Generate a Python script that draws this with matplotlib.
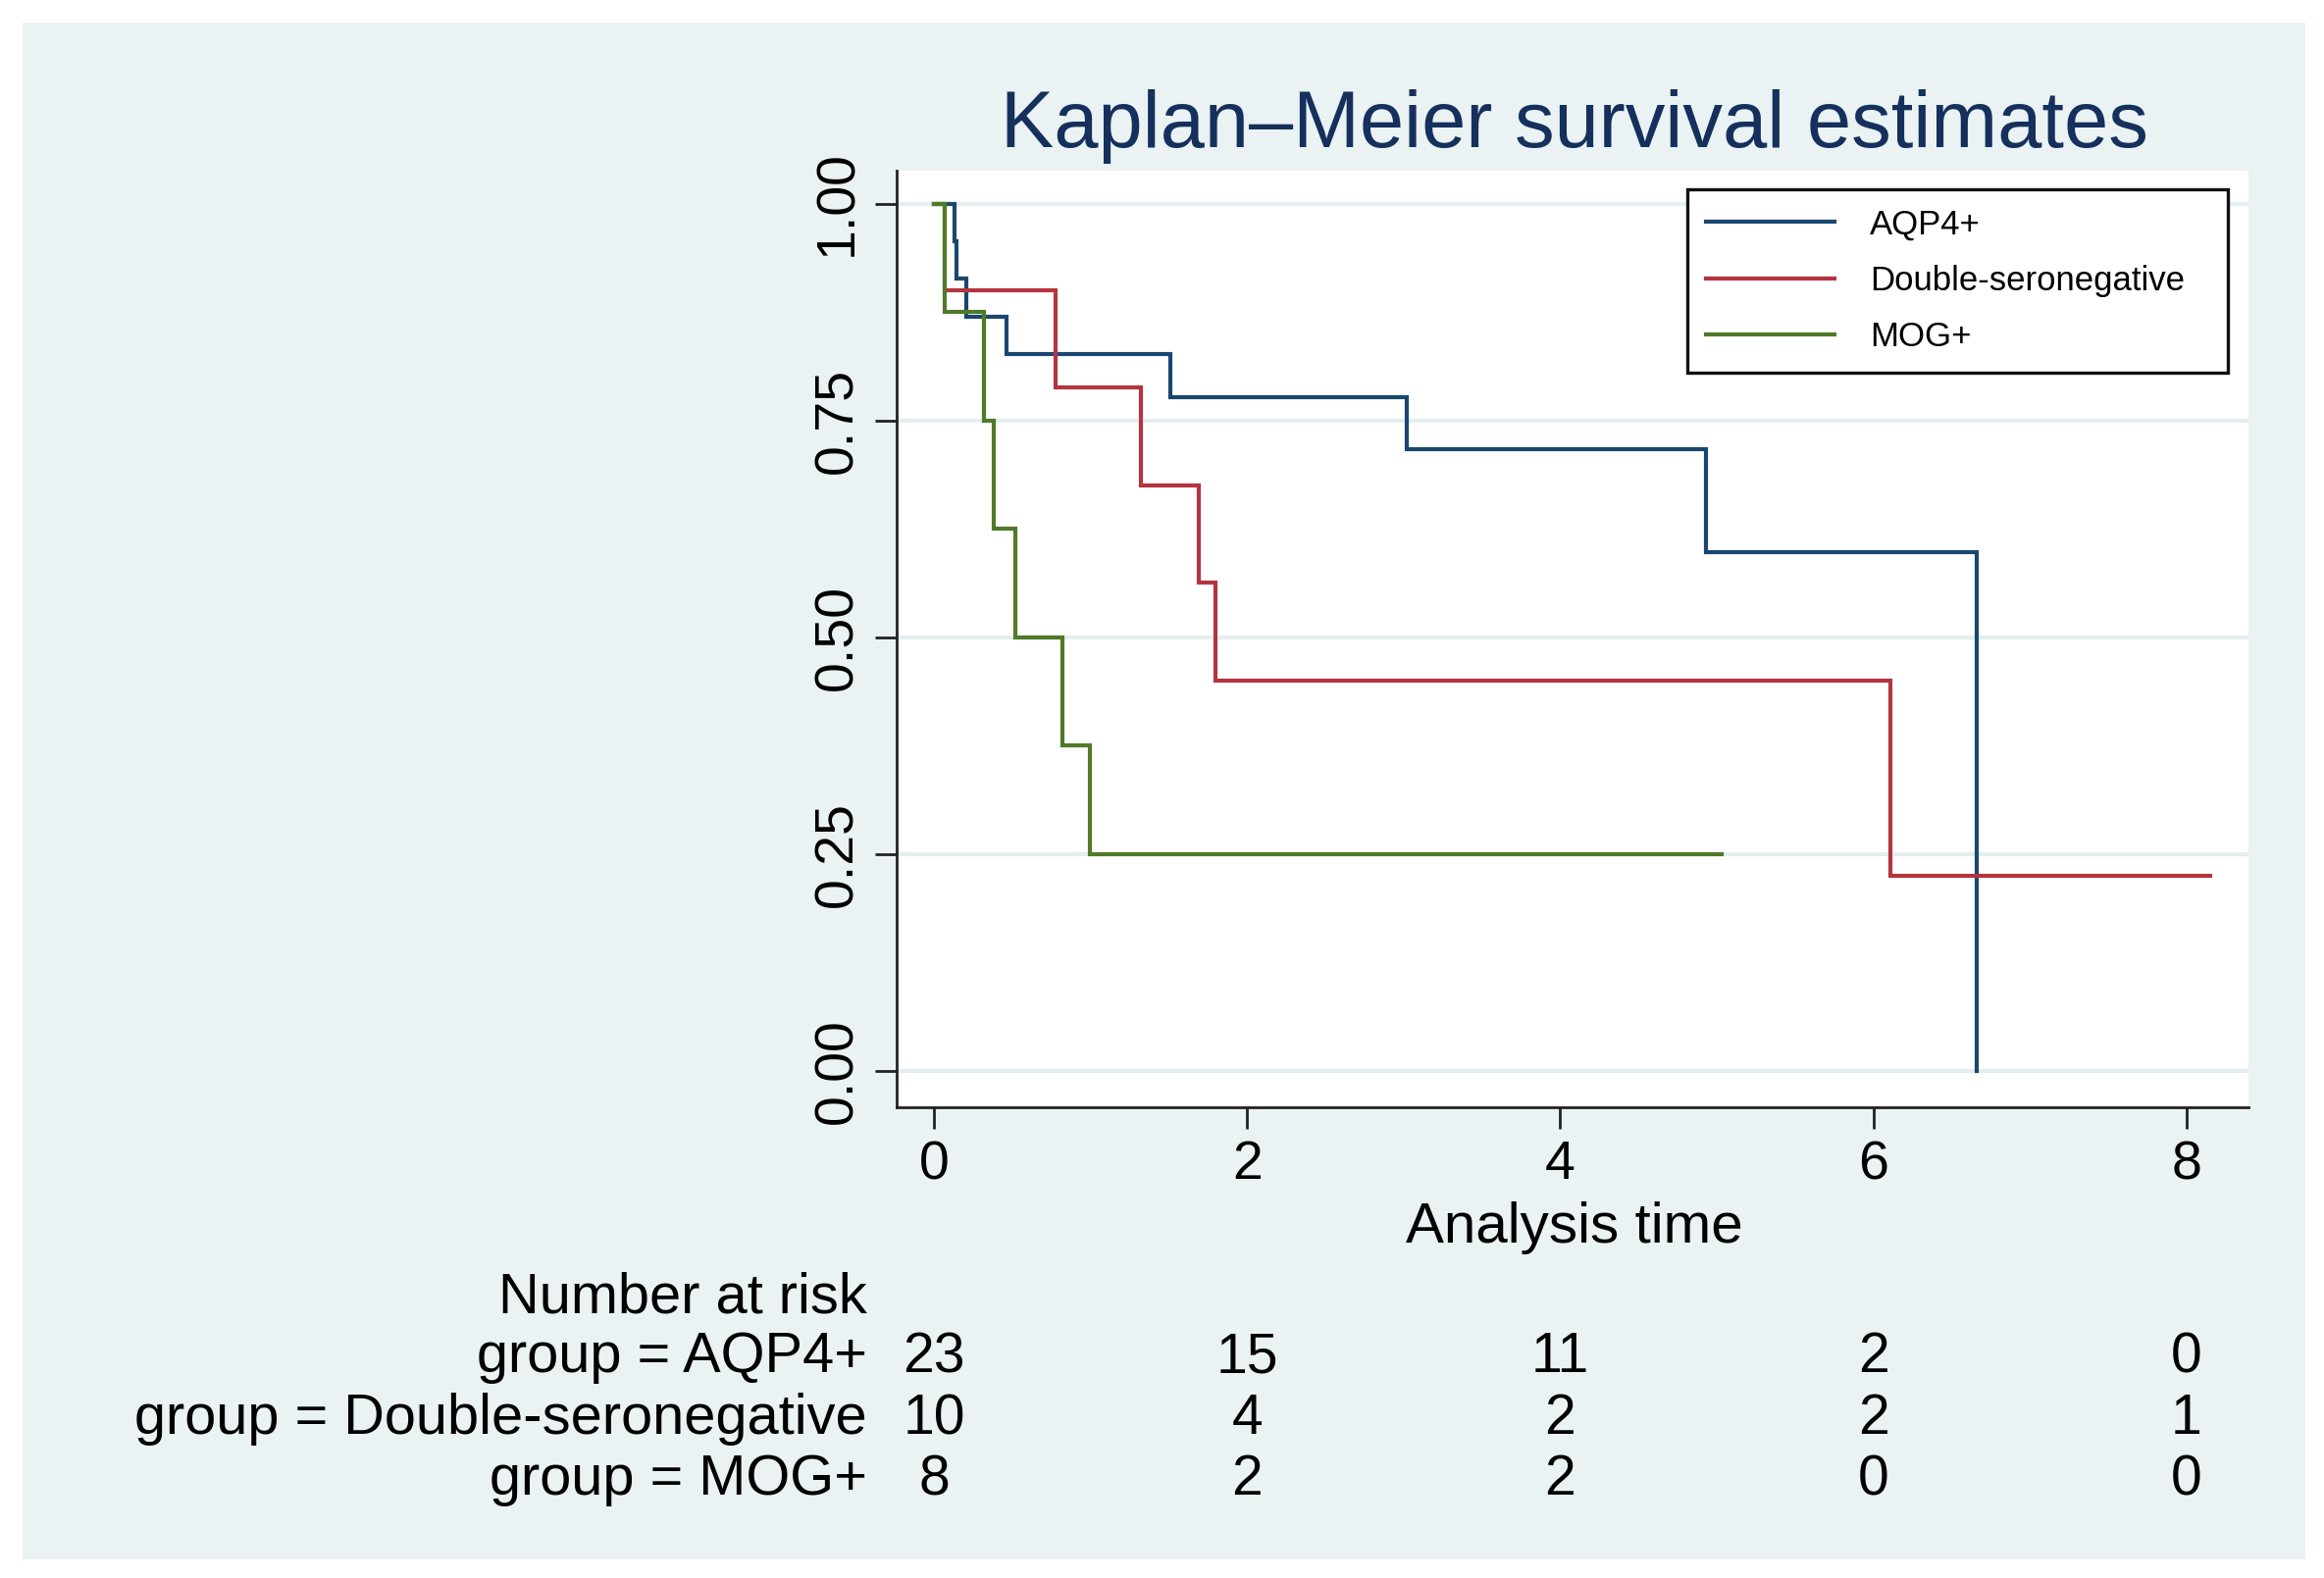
import matplotlib
matplotlib.use("Agg")
import matplotlib.pyplot as plt
import matplotlib.transforms as mtransforms
from matplotlib.patches import Rectangle

plt.rcParams['font.family'] = ['Liberation Sans', 'DejaVu Sans']

# Kaplan-Meier estimates (analysis time, survival)
aqp4_t = [0, 0.134, 0.146, 0.207, 0.462, 1.51, 3.02, 4.93, 6.66]
aqp4_s = [1.0, 0.957, 0.913, 0.870, 0.826, 0.777, 0.717, 0.598, 0.0]

dsn_t = [0, 0.07, 0.777, 1.32, 1.69, 1.80, 6.11, 8.15]
dsn_s = [1.0, 0.9, 0.7875, 0.675, 0.5625, 0.45, 0.225, 0.225]

mog_t = [0, 0.07, 0.32, 0.384, 0.52, 0.823, 0.994, 5.03]
mog_s = [1.0, 0.875, 0.75, 0.625, 0.5, 0.375, 0.25, 0.25]

groups = ["AQP4+", "Double-seronegative", "MOG+"]

# number at risk table
risk_times = [0, 2, 4, 6, 8]
risk_aqp4 = [23, 15, 11, 2, 0]
risk_dsn = [10, 4, 2, 2, 1]
risk_mog = [8, 2, 2, 0, 0]

xticks = [0, 2, 4, 6, 8]
yticks = [0, 0.25, 0.5, 0.75, 1.0]

bg = '#EAF2F3'
colors = ['#1A476F', '#B5343F', '#507A28']
axcol = '#222222'

fig = plt.figure(figsize=(23.69, 16.09), dpi=100, facecolor='white')
fig.patches.append(Rectangle((0.0097, 0.0118), 0.9823, 0.9739, transform=fig.transFigure,
                             facecolor=bg, edgecolor='none', zorder=-1))

ax = fig.add_axes([0.3858, 0.2983, 0.5817, 0.5936])
ax.set_facecolor('white')

series = [(aqp4_t, aqp4_s), (dsn_t, dsn_s), (mog_t, mog_s)]
for (t, s), c, g in zip(series, colors, groups):
    ax.step(t, s, where='post', color=c, linewidth=3.0, label=g, solid_joinstyle='miter')

ax.set_xlim(-0.238, 8.396)
ax.set_ylim(-0.042, 1.038)
ax.set_xticks(xticks)
ax.set_yticks(yticks)
ax.set_yticklabels([f"{v:.2f}" for v in yticks], rotation=90, va='center')
ax.yaxis.grid(True, color='#E4EEF1', linewidth=3)
ax.set_axisbelow(True)

for side in ['top', 'right']:
    ax.spines[side].set_visible(False)
for side in ['left', 'bottom']:
    ax.spines[side].set_color(axcol)
    ax.spines[side].set_linewidth(2.0)

ax.tick_params(axis='both', direction='out', length=16, width=2.0, color=axcol)
ax.tick_params(axis='x', labelsize=40, pad=8)
ax.tick_params(axis='y', labelsize=40, pad=8)

# legend box stretched to the reference width
leg = ax.legend(loc='upper left', bbox_to_anchor=(0.5849, 0.98, 0.3999, 0), mode='expand',
                borderaxespad=0, fontsize=25, frameon=True, fancybox=False,
                edgecolor='#111111', framealpha=1, handlelength=3.75, handletextpad=1.05,
                labelspacing=0.7, borderpad=0.56)
leg.get_frame().set_linewidth(2.4)

fig.text(0.6775, 0.920, 'Kaplan\u2013Meier survival estimates', ha='center', va='center',
         fontsize=58.5, color='#15305C')
fig.text(0.6775, 0.222, 'Analysis time', ha='center', va='center', fontsize=42)

# number at risk
trans = mtransforms.blended_transform_factory(ax.transData, fig.transFigure)
fig.text(0.3732, 0.1775, 'Number at risk', ha='right', va='center', fontsize=41.6)
rows = [risk_aqp4, risk_dsn, risk_mog]
row_y = [0.1396, 0.1005, 0.0619]
for g, vals, y in zip(groups, rows, row_y):
    fig.text(0.3732, y, f'group = {g}', ha='right', va='center', fontsize=41.6)
    for t, n in zip(risk_times, vals):
        ax.text(t, y, str(n), transform=trans, ha='center', va='center', fontsize=41, clip_on=False)

fig.savefig('out.png', dpi=100, facecolor='white')
